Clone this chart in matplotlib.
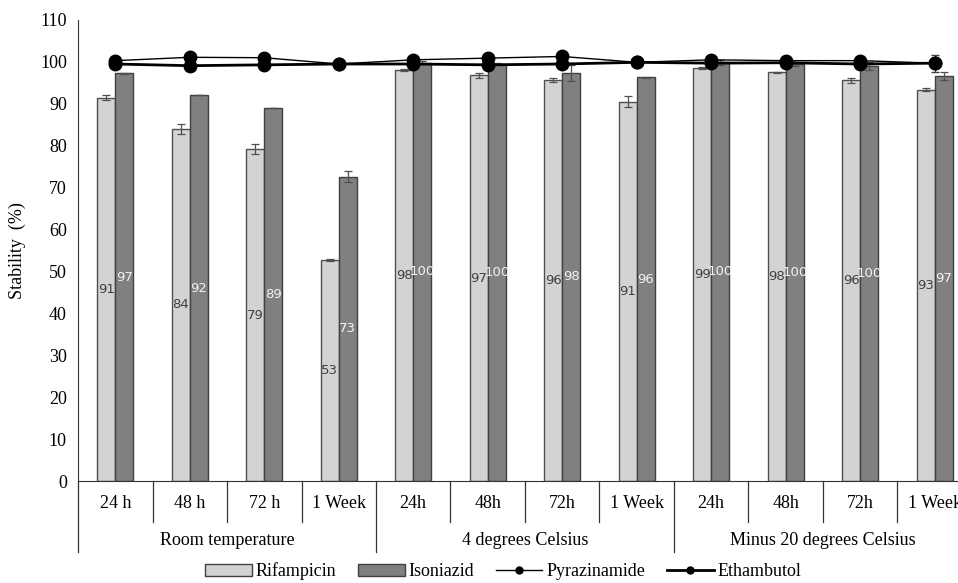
import numpy as np
import matplotlib.pyplot as plt
from matplotlib.patches import Patch
from matplotlib.lines import Line2D

# Time points and storage conditions
times = ["24 h", "48 h", "72 h", "1 Week",
         "24h", "48h", "72h", "1 Week",
         "24h", "48h", "72h", "1 Week"]
conditions = ["Room temperature", "4 degrees Celsius", "Minus 20 degrees Celsius"]

rif = [91.5, 84.0, 79.2, 52.7, 98.1, 96.8, 95.7, 90.5, 98.5, 97.5, 95.6, 93.4]
rif_err = [0.6, 1.2, 1.1, 0.3, 0.2, 0.6, 0.5, 1.3, 0.3, 0.2, 0.6, 0.3]
rif_lbl = [91, 84, 79, 53, 98, 97, 96, 91, 99, 98, 96, 93]

iso = [97.3, 92.1, 89.0, 72.6, 99.8, 99.5, 97.4, 96.3, 99.9, 99.5, 99.0, 96.7]
iso_err = [0.1, 0.1, 0.1, 1.3, 0.3, 0.2, 1.9, 0.1, 0.6, 0.5, 1.0, 0.9]
iso_lbl = [97, 92, 89, 73, 100, 100, 98, 96, 100, 100, 100, 97]

pza = [100.3, 101.1, 101.0, 99.5, 100.5, 100.9, 101.3, 99.9, 100.5, 100.3, 100.3, 99.7]
pza_err = [0.4, 0.2, 0.2, 0.2, 0.2, 0.2, 1.0, 0.2, 0.2, 0.2, 0.2, 2.0]
emb = [99.5, 99.1, 99.3, 99.5, 99.5, 99.3, 99.5, 99.9, 99.7, 99.8, 99.5, 99.7]
emb_err = [0.5, 0.5, 0.6, 0.3, 0.2, 0.2, 0.2, 0.2, 0.2, 0.2, 0.2, 0.2]

serif = "Liberation Serif"
narrow = ["Liberation Sans Narrow", "DejaVu Sans"]
rif_col = "#d3d3d3"
iso_col = "#808080"

fig = plt.figure(figsize=(9.58, 5.83), dpi=100)
ax = fig.add_axes([78 / 958, 1 - 481 / 583, 894 / 958, 461 / 583])

x = np.arange(len(times))
w = 0.24
ax.bar(x - w / 2, rif, w, yerr=rif_err, color=rif_col, edgecolor="#505050",
       linewidth=1.0, error_kw=dict(ecolor="#505050", elinewidth=0.9, capsize=3, capthick=0.9))
ax.bar(x + w / 2, iso, w, yerr=iso_err, color=iso_col, edgecolor="#404040",
       linewidth=1.0, error_kw=dict(ecolor="#505050", elinewidth=0.9, capsize=3, capthick=0.9))

for i in range(len(times)):
    ax.text(x[i] - w / 2, rif[i] / 2, str(rif_lbl[i]), ha="center", va="center",
            fontsize=9.5, color="#404040", family=narrow)
    ax.text(x[i] + w / 2, iso[i] / 2, str(iso_lbl[i]), ha="center", va="center",
            fontsize=9.5, color="#f2f2f2", family=narrow)

ax.errorbar(x, pza, yerr=pza_err, fmt="-o", color="black", lw=1.0, ms=9,
            capsize=3, elinewidth=0.9, ecolor="#404040")
ax.errorbar(x, emb, yerr=emb_err, fmt="-o", color="black", lw=2.0, ms=9,
            capsize=3, elinewidth=0.9, ecolor="#404040")

ax.set_xlim(-0.5, len(times) - 0.5)
ax.set_ylim(0, 110)
ax.set_yticks(np.arange(0, 111, 10))
ax.set_xticks([])
ax.tick_params(axis="y", length=0, labelsize=13, pad=8)
for lab in ax.get_yticklabels():
    lab.set_family(serif)
for s in ["top", "right"]:
    ax.spines[s].set_visible(False)
ax.spines["left"].set_color("#333333")
ax.spines["bottom"].set_color("#333333")
ax.set_ylabel("Stability  (%)", family=serif, fontsize=13, labelpad=10)

# Two-level category axis below the plot
tr = ax.get_xaxis_transform()
for i in range(len(times) + 1):
    pos = i - 0.5
    low = -0.155 if i % 4 == 0 else -0.089
    ax.plot([pos, pos], [0, low], transform=tr, color="#333333", lw=0.9, clip_on=False)
for i, t in enumerate(times):
    ax.text(i, -0.048, t, transform=tr, ha="center", va="center",
            family=serif, fontsize=13)
for j, c in enumerate(conditions):
    ax.text(4 * j + 1.5, -0.13, c, transform=tr, ha="center", va="center",
            family=serif, fontsize=13)

handles = [
    Patch(facecolor=rif_col, edgecolor="#404040", label="Rifampicin"),
    Patch(facecolor=iso_col, edgecolor="#404040", label="Isoniazid"),
    Line2D([], [], color="black", lw=1.0, marker="o", ms=5, label="Pyrazinamide"),
    Line2D([], [], color="black", lw=2.0, marker="o", ms=5, label="Ethambutol"),
]
fig.legend(handles=handles, loc="center", bbox_to_anchor=(0.525, 0.02), ncol=4,
           frameon=False, prop={"family": serif, "size": 13},
           handlelength=2.6, handletextpad=0.2, columnspacing=1.2)

fig.savefig("out.png", dpi=100)
plt.close(fig)
